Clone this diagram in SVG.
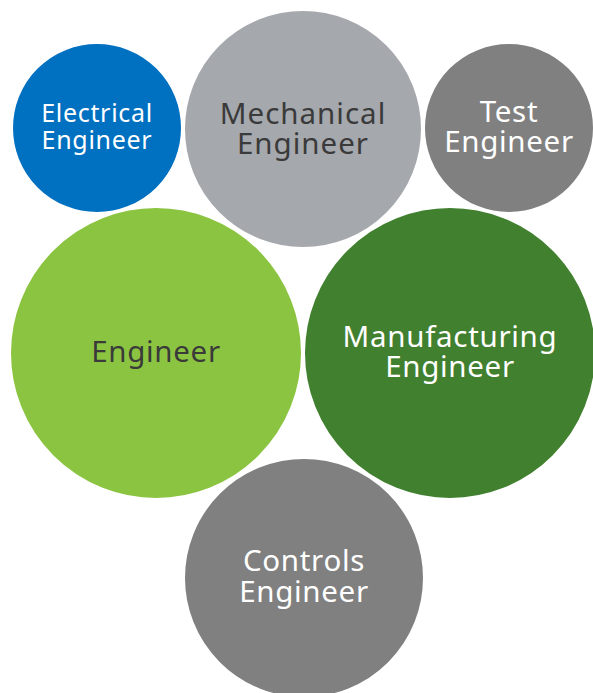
<svg xmlns="http://www.w3.org/2000/svg" width="593" height="693" viewBox="0 0 593 693">
<style>
.c{stroke:#ffffff;stroke-width:2}
.t{font-family:"Noto Sans","Open Sans",sans-serif;text-anchor:middle;font-size:29.5px;letter-spacing:0.7px}
.s{font-size:25px;letter-spacing:0.7px}
.w{fill:#ffffff}
.d{fill:#3a3a3a}
</style>
<rect width="593" height="693" fill="#ffffff"/>
<g id="connectors"></g>
<g id="electrical">
<circle class="c" cx="97" cy="128" r="85" fill="#0070C0"/>
<text class="t s w" x="97" y="122">Electrical<tspan x="97" dy="26.5">Engineer</tspan></text>
</g>
<g id="mechanical">
<circle class="c" cx="303" cy="129" r="119" fill="#A5A8AD"/>
<text class="t d" x="303" y="124" style="letter-spacing:1px">Mechanical<tspan x="303" dy="30">Engineer</tspan></text>
</g>
<g id="test">
<circle class="c" cx="509" cy="128" r="85" fill="#808080"/>
<text class="t w" x="509" y="122">Test<tspan x="509" dy="30">Engineer</tspan></text>
</g>
<g id="engineer">
<circle class="c" cx="156" cy="353" r="146" fill="#8BC441"/>
<text class="t d" x="156" y="362">Engineer</text>
</g>
<g id="manufacturing">
<circle class="c" cx="450" cy="353" r="146" fill="#41802F"/>
<text class="t w" x="450" y="347">Manufacturing<tspan x="450" dy="30">Engineer</tspan></text>
</g>
<g id="controls">
<circle class="c" cx="304" cy="578" r="120" fill="#808080"/>
<text class="t w" x="304" y="571">Controls<tspan x="304" dy="31">Engineer</tspan></text>
</g>
</svg>
